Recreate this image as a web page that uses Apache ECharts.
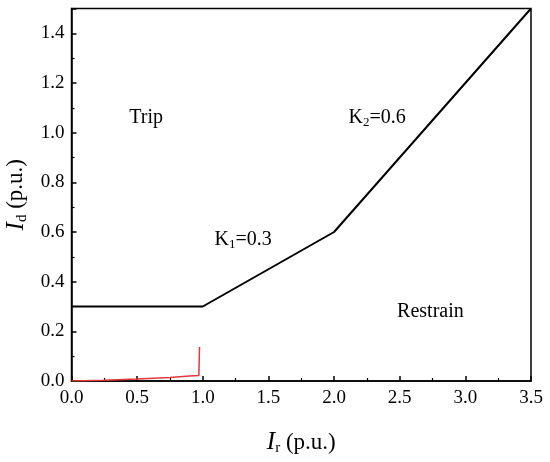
<!DOCTYPE html>
<html>
<head>
<meta charset="utf-8">
<script src="https://cdn.jsdelivr.net/npm/echarts@6/dist/echarts.min.js"></script>
<style>
  html, body { margin: 0; padding: 0; background: #fff; }
  #view { width: 550px; height: 462px; }
</style>
</head>
<body>
<div id="view"></div>
<script>
// characteristic (black) break points
var charX = [0, 1, 2, 3.5]
var charY = [0.3, 0.3, 0.6, 1.5]
// measured operating trace (red)
var traceX = [0, 0.25, 0.5, 0.75, 0.9, 0.97, 0.975]
var traceY = [0, 0.003, 0.008, 0.014, 0.02, 0.022, 0.137]
// region / slope labels [x, y, text]
var notes = [
  [0.44, 1.06, '{t|Trip}'],
  [2.11, 1.06, '{t|K}{s|2}{t|=0.6}'],
  [1.09, 0.57, '{t|K}{s|1}{t|=0.3}'],
  [2.48, 0.28, '{t|Restrain}']
]

var font = 'Liberation Serif'
var mychart = echarts.init(document.getElementById('view'))

function pairs (xs, ys) {
  var out = []
  for (let i = 0; i < xs.length; i++) out.push([xs[i], ys[i]])
  return out
}

var nameRich = {
  i: { fontFamily: font, fontStyle: 'italic', fontSize: 25, color: '#000' },
  s: { fontFamily: font, fontSize: 15, color: '#000', padding: [12, 0, 0, 0] },
  n: { fontFamily: font, fontSize: 23, color: '#000' }
}

var options = {
  animation: false,
  grid: {
    left: 71.5, right: 19, top: 8.5, bottom: 81,
    outerBoundsMode: 'none', containLabel: false,
    show: true, borderColor: '#000', borderWidth: 1.5
  },
  xAxis: {
    type: 'value', min: 0, max: 3.5, interval: 0.5,
    name: '{i|I}{s|r}{n| (p.u.)}',
    nameLocation: 'middle', nameGap: 48,
    nameTextStyle: { rich: nameRich },
    axisLine: { lineStyle: { color: '#000', width: 1.5 } },
    axisTick: { inside: true, length: 5, lineStyle: { color: '#000', width: 1.5 } },
    minorTick: { show: true, splitNumber: 2, length: 3, lineStyle: { color: '#000', width: 1.2 } },
    splitLine: { show: false },
    axisLabel: {
      margin: 8, color: '#000', fontFamily: font, fontSize: 19,
      formatter: function (v) { return v.toFixed(1) }
    }
  },
  yAxis: {
    type: 'value', min: 0, max: 1.5, interval: 0.2,
    name: '{i|I}{s|d}{n| (p.u.)}',
    nameLocation: 'middle', nameGap: 40,
    nameTextStyle: { rich: nameRich },
    axisLine: { lineStyle: { color: '#000', width: 1.5 } },
    axisTick: { inside: true, length: 5, lineStyle: { color: '#000', width: 1.5 } },
    minorTick: { show: true, splitNumber: 2, length: 3, lineStyle: { color: '#000', width: 1.2 } },
    splitLine: { show: false },
    axisLabel: {
      margin: 7, color: '#000', fontFamily: font, fontSize: 19, showMaxLabel: false,
      formatter: function (v) { return v.toFixed(1) }
    }
  },
  series: [
    {
      type: 'line', data: pairs(charX, charY), symbol: 'none',
      lineStyle: { color: '#000', width: 2 }
    },
    {
      type: 'line', data: pairs(traceX, traceY), symbol: 'none',
      lineStyle: { color: '#e0383c', width: 1.5 }
    }
  ]
}
mychart.setOption(options)

// place the annotations in data coordinates
var textRich = {
  t: { fontFamily: font, fontSize: 20, color: '#000' },
  s: { fontFamily: font, fontSize: 13, color: '#000', padding: [10, 0, 0, 0] }
}
var graphics = notes.map(function (n) {
  var p = mychart.convertToPixel({ gridIndex: 0 }, [n[0], n[1]])
  return {
    type: 'text', x: p[0], y: p[1],
    style: { text: n[2], rich: textRich, verticalAlign: 'middle', align: 'left' }
  }
})
mychart.setOption({ graphic: graphics })
</script>
</body>
</html>
